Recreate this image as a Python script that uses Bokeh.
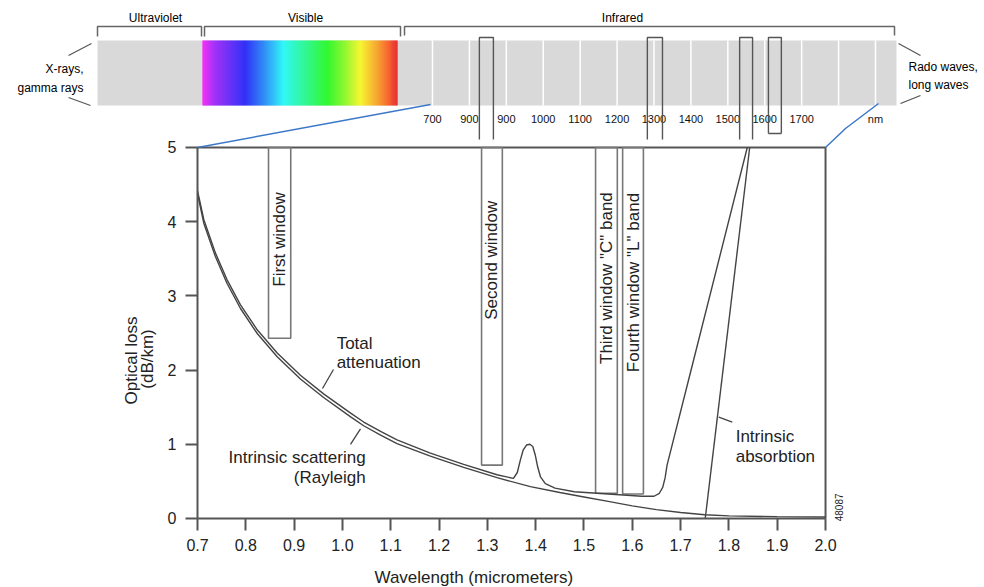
import colorsys
import math
import numpy as np
from bokeh.plotting import figure
from bokeh.models import Range1d, LinearAxis, FixedTicker, PrintfTickFormatter
from bokeh.core.properties import value
from bokeh.embed import file_html
from bokeh.resources import INLINE

# ---------------- data ----------------
x_ticks = [0.7, 0.8, 0.9, 1.0, 1.1, 1.2, 1.3, 1.4, 1.5, 1.6, 1.7, 1.8, 1.9, 2.0]
y_ticks = [0, 1, 2, 3, 4, 5]

# Intrinsic scattering (Rayleigh)
scatter_x = [0.700, 0.713, 0.737, 0.761, 0.789, 0.824, 0.865, 0.913, 0.961, 1.017,
             1.044, 1.080, 1.113, 1.182, 1.251, 1.320, 1.389, 1.450, 1.500, 1.550,
             1.600, 1.650, 1.700, 1.750, 1.800, 1.900, 2.000]
scatter_y = [4.38, 3.98, 3.53, 3.17, 2.83, 2.49, 2.18, 1.88, 1.63, 1.37,
             1.25, 1.12, 1.01, 0.84, 0.69, 0.55, 0.43, 0.35, 0.29, 0.23,
             0.17, 0.12, 0.08, 0.05, 0.035, 0.025, 0.02]

# Total attenuation
total_x = [0.700, 0.713, 0.737, 0.761, 0.789, 0.824, 0.865, 0.913, 0.961, 1.017,
           1.044, 1.080, 1.113, 1.182, 1.251, 1.320, 1.354, 1.362, 1.368, 1.374,
           1.381, 1.388, 1.394, 1.399, 1.404, 1.410, 1.420, 1.440, 1.480, 1.550,
           1.620, 1.645, 1.656, 1.663, 1.668, 1.672, 1.717, 1.838]
total_y = [4.42, 4.03, 3.58, 3.22, 2.88, 2.54, 2.23, 1.93, 1.68, 1.42,
           1.30, 1.17, 1.06, 0.88, 0.73, 0.59, 0.54, 0.62, 0.78, 0.92,
           0.99, 1.00, 0.97, 0.86, 0.70, 0.56, 0.47, 0.41, 0.36, 0.33,
           0.30, 0.30, 0.34, 0.42, 0.55, 0.72, 1.88, 5.00]

# Intrinsic absorption
absorb_x = [1.751, 1.843]
absorb_y = [0.0, 5.0]

# Transmission windows (micrometers)
window_left = [0.847, 1.288, 1.524, 1.580]
window_right = [0.893, 1.331, 1.569, 1.623]
window_bottom = [2.43, 0.72, 0.34, 0.33]
window_labels = ["First window", "Second window", 'Third window "C" band', 'Fourth window "L" band']
window_label_y = [3.76, 3.48, 3.24, 3.18]

# Curve annotations
note_text = ["Total", "attenuation", "Intrinsic scattering", "(Rayleigh", "Intrinsic", "absorbtion"]
note_x = [0.988, 0.988, 1.048, 1.048, 1.814, 1.814]
note_y = [2.36, 2.10, 0.82, 0.55, 1.11, 0.83]
note_align = ["left", "left", "right", "right", "left", "left"]
leader_x = [[0.9815, 0.9587], [1.0374, 1.0167], [1.779, 1.807]]
leader_y = [[2.008, 1.752], [1.208, 1.000], [1.365, 1.298]]

# Spectrum strip (schematic)
nm_ticks = [700, 800, 900, 1000, 1100, 1200, 1300, 1400, 1500, 1600, 1700, 1800, 1900]
nm_labels = ["700", "900", "900", "1000", "1100", "1200", "1300", "1400", "1500", "1600", "1700", "", "nm"]
top_window_left_nm = [827, 1282, 1532, 1610]
top_window_right_nm = [865, 1323, 1567, 1645]
band_names = ["Ultraviolet", "Visible", "Infrared"]
side_text = ["X-rays,", "gamma rays", "Rado waves,", "long waves"]

# ---------------- figure ----------------
FONT = value("Liberation Sans")
INK = "#222222"
AX = "#555555"

p = figure(width=984, height=587,
           x_range=Range1d(0.29222, 2.32906), y_range=Range1d(-0.92992, 6.98113),
           x_axis_type=None, y_axis_type=None, toolbar_location=None,
           output_backend="svg", min_border=0, outline_line_color=None)
p.background_fill_color = "white"
p.border_fill_color = "white"
p.extra_x_ranges = {"px": Range1d(0, 984), "nm": Range1d(-470.2, 2195.3)}
p.extra_y_ranges = {"py": Range1d(587, 0)}

# axes
xaxis = LinearAxis(fixed_location=0, bounds=(x_ticks[0], x_ticks[-1]),
                   ticker=FixedTicker(ticks=x_ticks, minor_ticks=[]),
                   formatter=PrintfTickFormatter(format="%.1f"))
yaxis = LinearAxis(fixed_location=x_ticks[0], bounds=(y_ticks[0], y_ticks[-1]),
                   ticker=FixedTicker(ticks=y_ticks, minor_ticks=[]))
for ax in (xaxis, yaxis):
    ax.axis_line_color = AX
    ax.axis_line_width = 2
    ax.major_tick_line_color = AX
    ax.major_tick_line_width = 2
    ax.major_tick_out = 12
    ax.major_tick_in = 0
    ax.minor_tick_line_color = None
    ax.major_label_text_font = "Liberation Sans"
    ax.major_label_text_font_size = "16px"
    ax.major_label_text_color = INK
    ax.major_label_standoff = 9
p.add_layout(xaxis, "below")
p.add_layout(yaxis, "left")

# frame top and right
p.line([x_ticks[0], x_ticks[-1], x_ticks[-1]], [y_ticks[-1], y_ticks[-1], y_ticks[0]],
       line_color=AX, line_width=2)

# axis titles
p.text(x=[1.272], y=[-0.80], text=["Wavelength (micrometers)"], text_font=FONT,
       text_font_size="17px", text_color=INK, text_align="center", text_baseline="middle")
p.text(x=[0.5634, 0.5965], y=[2.13, 2.15], text=["Optical loss", "(dB/km)"], angle=math.pi / 2,
       text_font=FONT, text_font_size="17px", text_color=INK, text_align="center",
       text_baseline="middle")

# windows
p.quad(left=window_left, right=window_right, bottom=window_bottom,
       top=[y_ticks[-1]] * len(window_left), fill_color=None, line_color="#777777", line_width=1.6)
p.text(x=[(a + b) / 2 for a, b in zip(window_left, window_right)], y=window_label_y,
       text=window_labels, angle=math.pi / 2, text_font=FONT, text_font_size="17px",
       text_color=INK, text_align="center", text_baseline="middle")

# curves
p.line(scatter_x, scatter_y, line_color="#444444", line_width=1.4)
p.line(total_x, total_y, line_color="#444444", line_width=1.4)
p.line(absorb_x, absorb_y, line_color="#444444", line_width=1.4)

# annotations
p.multi_line(xs=leader_x, ys=leader_y, line_color="#444444", line_width=1.3)
p.text(x=note_x, y=note_y, text=note_text, text_align=note_align, text_baseline="middle",
       text_font=FONT, text_font_size="17px", text_color=INK)
p.text(x=[2.027], y=[0.15], text=["48087"], angle=math.pi / 2, text_font=FONT,
       text_font_size="10px", text_color=INK, text_align="center", text_baseline="middle")

# ---------------- spectrum strip (schematic, pixel units) ----------------
S = dict(x_range_name="px", y_range_name="py")
p.quad(left=[97], right=[896], top=[40], bottom=[105], fill_color="#d9d9d9", line_color=None, **S)

grad_px = [202, 214, 245, 265, 283, 305, 327, 345, 360, 377, 397]
grad_hue = [300, 275, 240, 210, 180, 150, 120, 90, 60, 35, 0]
edges = np.arange(202, 398, 1.0)
lefts, rights, cols = [], [], []
for a in edges[:-1]:
    h = float(np.interp(a + 0.5, grad_px, grad_hue))
    r, g, b = colorsys.hsv_to_rgb(h / 360.0, 1.0, 1.0 if h > 10 else 0.93)
    lefts.append(a)
    rights.append(a + 1.05)
    cols.append("#%02x%02x%02x" % (int(r * 255), int(g * 255), int(b * 255)))
p.quad(left=lefts, right=rights, top=[40] * len(lefts), bottom=[105] * len(lefts),
       fill_color=cols, line_color=None, **S)

# nm scale
N = dict(x_range_name="nm", y_range_name="py")
p.segment(x0=nm_ticks, x1=nm_ticks, y0=[40] * len(nm_ticks), y1=[105] * len(nm_ticks),
          line_color="white", line_width=1.5, **N)
p.text(x=nm_ticks, y=[118] * len(nm_ticks), text=nm_labels, text_font=FONT, text_font_size="11px",
       text_color="#111111", text_align="center", text_baseline="middle", **N)
tw_xs = [[a, a, b, b] for a, b in zip(top_window_left_nm, top_window_right_nm)]
tw_ys = [[139, 37, 37, 139], [139, 37, 37, 139], [139, 37, 37, 139], [133, 37, 37, 133]]
p.multi_line(xs=tw_xs, ys=tw_ys, line_color="#555555", line_width=1.4, **N)
p.segment(x0=[top_window_left_nm[3]], x1=[top_window_right_nm[3]], y0=[133], y1=[133],
          line_color="#555555", line_width=1.4, **N)

# brackets and band names
p.multi_line(xs=[[97, 97, 201, 201], [204, 204, 400, 400], [404, 404, 894, 894]],
             ys=[[36, 26, 26, 36], [36, 26, 26, 36], [35, 26, 26, 35]],
             line_color="#666666", line_width=1.5, **S)
p.text(x=[155, 305, 622], y=[17, 17, 17], text=band_names, text_font=FONT, text_font_size="12px",
       text_color="#000000", text_align="center", text_baseline="middle", **S)

# side labels
p.text(x=[83, 83], y=[68, 87], text=side_text[:2], text_font=FONT, text_font_size="12px",
       text_color="#000000", text_align="right", text_baseline="middle", **S)
p.text(x=[908, 908], y=[66, 84], text=side_text[2:], text_font=FONT, text_font_size="12px",
       text_color="#000000", text_align="left", text_baseline="middle", **S)
p.multi_line(xs=[[68, 91], [68, 90], [898, 920], [900, 920]],
             ys=[[55, 43], [97, 105], [43, 55], [103, 95]],
             line_color="#555555", line_width=1.2, **S)

# blue zoom connectors
p.multi_line(xs=[[430, 197], [878, 845, 825]], ys=[[104, 147], [103, 128, 147]],
             line_color="#3c78c8", line_width=1.5, **S)

open("out.html", "w").write(file_html(p, INLINE))
